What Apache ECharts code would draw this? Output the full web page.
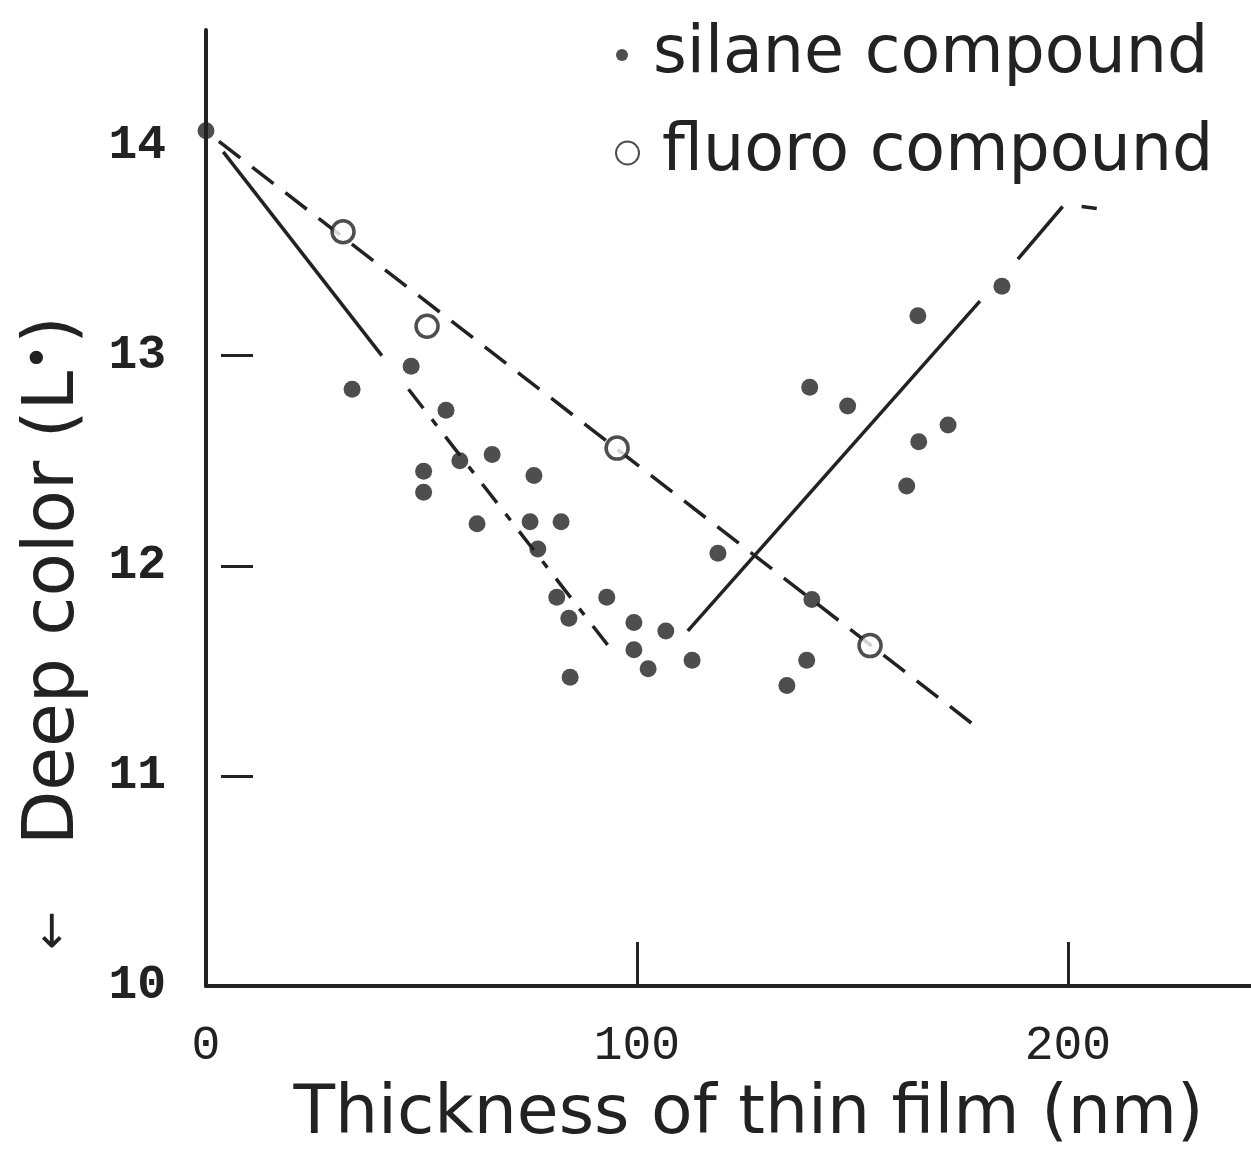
<!DOCTYPE html>
<html>
<head>
<meta charset="utf-8">
<script src="https://cdn.jsdelivr.net/npm/echarts@6/dist/echarts.min.js"></script>
<style>
html,body{margin:0;padding:0;background:#fff;}
#chart{width:1251px;height:1154px;}
</style>
</head>
<body>
<div id="chart"></div>
<script>
// ---- data ----
const xTickLabels = [0, 100, 200];
const yTickLabels = [10, 11, 12, 13, 14];
const silanePoints = [
  [0, 14.07],
  [33.9, 12.84], [47.6, 12.95], [55.7, 12.74], [50.5, 12.45], [50.5, 12.35],
  [58.9, 12.50], [66.4, 12.53], [62.9, 12.20], [76.1, 12.43], [75.2, 12.21],
  [77.0, 12.08], [82.4, 12.21], [81.4, 11.85], [84.2, 11.75], [84.5, 11.47],
  [93.0, 11.85], [99.3, 11.73], [99.3, 11.60], [102.6, 11.51], [106.7, 11.69],
  [112.8, 11.55], [118.8, 12.06], [134.8, 11.43], [139.4, 11.55], [140.6, 11.84],
  [140.1, 12.85], [148.9, 12.76], [162.6, 12.38], [165.4, 12.59], [172.2, 12.67],
  [165.2, 13.19], [184.7, 13.33]
];
const fluoroPoints = [[31.8, 13.59], [51.3, 13.14], [95.4, 12.56], [154.1, 11.62]];
const silaneFallSolid = [[4, 13.97], [40.8, 13.0]];
const silaneFallDash = [[47, 12.84], [93.7, 11.61]];
const fluoroFit = [[3, 14.02], [179.6, 11.22]];
const silaneRiseSolid = [[111.8, 11.69], [179.6, 13.26]];
const silaneRiseDash1 = [[188.4, 13.46], [198.8, 13.71]];
const silaneRiseDash2 = [[203.2, 13.71], [206.7, 13.70]];

const INK = '#222';
const TXT = 'DejaVu Sans';
const chart = echarts.init(document.getElementById('chart'), null, {renderer: 'canvas'});

function lineSeries(data, type, width) {
  return {
    type: 'line', data: data, showSymbol: false, silent: true, z: 1,
    lineStyle: {color: INK, width: width || 3, type: type || 'solid'},
    animation: false
  };
}

const option = {
  backgroundColor: '#fff',
  animation: false,
  grid: {left: 206, right: 0, top: 30, bottom: 168, containLabel: false},
  legend: [
    {
      data: [{name: 'silane compound', icon: 'circle'}],
      orient: 'vertical', left: 611, top: 10,
      itemWidth: 12, itemHeight: 12,
      textStyle: {fontFamily: TXT, fontSize: 65, lineHeight: 80, color: INK, padding: [0, 0, 0, 20]},
      selectedMode: false
    },
    {
      data: [{name: 'fluoro compound', icon: 'circle'}],
      orient: 'vertical', left: 610, top: 108,
      itemWidth: 23, itemHeight: 23,
      textStyle: {fontFamily: TXT, fontSize: 65, lineHeight: 80, color: INK, padding: [0, 0, 0, 18]},
      selectedMode: false
    }
  ],
  xAxis: {
    type: 'value', min: 0, max: 242.5,
    name: 'Thickness of thin film (nm)', nameLocation: 'middle', nameGap: 95,
    nameTextStyle: {fontFamily: TXT, fontSize: 68, color: INK, padding: [0, 0, 0, 40]},
    axisLine: {show: true, onZero: false, lineStyle: {color: INK, width: 4}},
    axisTick: {show: true, inside: true, length: 44, customValues: [100, 200], lineStyle: {color: INK, width: 3}},
    axisLabel: {show: true, customValues: xTickLabels, margin: 36, fontFamily: 'Liberation Mono', fontSize: 48, color: INK},
    splitLine: {show: false}
  },
  yAxis: [
    {
      type: 'value', min: 10, max: 14.55,
      name: '{arr|←}Deep color (L{sup|•})', nameLocation: 'middle', nameGap: 116, nameRotate: 90,
      nameTextStyle: {
        fontFamily: TXT, fontSize: 71, color: INK, padding: [0, 250, 0, 0],
        rich: {
          arr: {fontSize: 46, fontFamily: 'DejaVu Sans', color: INK, padding: [0, 66, 0, 0]},
          sup: {fontSize: 46, fontFamily: TXT, verticalAlign: 'top', padding: [0, 0, 22, 0], color: INK}
        }
      },
      axisLine: {show: true, onZero: false, lineStyle: {color: INK, width: 4}},
      axisTick: {show: false},
      axisLabel: {show: true, customValues: yTickLabels, margin: 40, fontFamily: 'Liberation Mono', fontWeight: 'bold', fontSize: 48, color: INK},
      splitLine: {show: false}
    },
    {
      type: 'value', min: 10, max: 14.55, position: 'left', offset: -15,
      axisLine: {show: false},
      axisTick: {show: true, inside: true, length: 32, customValues: [11, 12, 13], lineStyle: {color: INK, width: 3}},
      axisLabel: {show: false},
      splitLine: {show: false}
    }
  ],
  series: [
    lineSeries(silaneFallSolid, 'solid', 3.5),
    lineSeries(silaneFallDash, [24, 14, 8, 14], 3.5),
    lineSeries(fluoroFit, [27, 15], 3.5),
    lineSeries(silaneRiseSolid, 'solid', 3.5),
    lineSeries(silaneRiseDash1, 'solid', 3.5),
    lineSeries(silaneRiseDash2, 'solid', 3.5),
    {
      name: 'silane compound', type: 'scatter', data: silanePoints, symbol: 'circle', symbolSize: 17, z: 3,
      itemStyle: {color: INK}
    },
    {
      name: 'fluoro compound', type: 'scatter', data: fluoroPoints, symbol: 'circle', symbolSize: 22, z: 3,
      itemStyle: {color: '#fff', borderColor: INK, borderWidth: 3.5}
    }
  ]
};
chart.setOption(option);
</script>
</body>
</html>
